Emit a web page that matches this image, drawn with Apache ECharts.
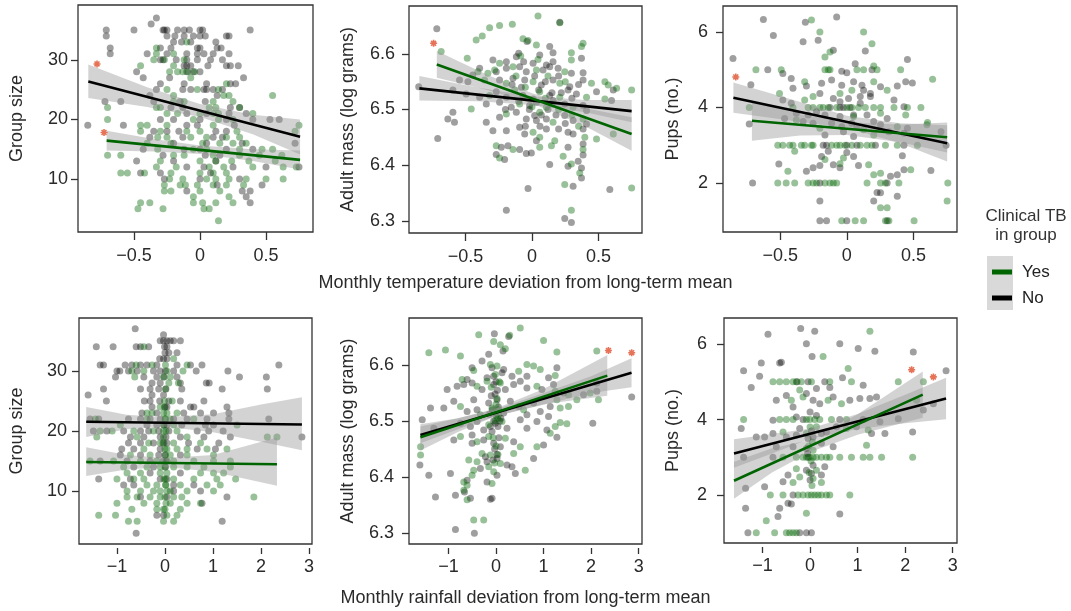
<!DOCTYPE html>
<html><head><meta charset="utf-8">
<script src="https://cdn.jsdelivr.net/npm/echarts@6.0.0/dist/echarts.min.js"></script>
<style>html,body{margin:0;padding:0;background:#fff}#c{width:1071px;height:611px}</style>
</head><body><div id="c"></div>
<script>
// ---------- tick labels ----------
const tempTicks = [-0.5, 0, 0.5];
const rainTicks = [-1, 0, 1, 2, 3];
const groupTicks = [10, 20, 30];
const massTicks = [6.3, 6.4, 6.5, 6.6];
const pupTicks = [2, 4, 6];
const yNames = ['Group size', 'Adult mass (log grams)', 'Pups (no.)'];
const xNames = ['Monthly temperature deviation from long-term mean', 'Monthly rainfall deviation from long-term mean'];
const legendNames = ['Yes', 'No'];
const legendTitle = 'Clinical TB\nin group';

// ---------- Panel 1: group size vs temperature ----------
const p1No = [[-0.33,37],[-0.37,36],
[-0.71,35],[-0.5,35],[-0.28,35],[-0.27,35],[-0.25,35],[-0.17,35],[-0.12,35],[-0.08,35],[0,35],[0.02,35],[0.38,35],
[-0.71,34],[-0.25,34],[-0.19,34],[-0.12,34],[-0.05,34],[0,34],[0.04,34],[0.2,34],[0.22,34],
[-0.2,33],[-0.14,33],[-0.07,33],[0.12,33],
[-0.68,32],[-0.3,32],[-0.22,32],[-0.02,32],[0,32],[0.13,32],[0.16,32],
[-0.68,31],[-0.4,31],[-0.25,31],[-0.1,31],[-0.02,31],[0.03,31],[0.1,31],[0.22,31],
[-0.3,30],[-0.28,30],[-0.18,30],[-0.1,30],[-0.02,30],[0.08,30],[0.17,30],
[-0.12,29],[-0.1,29],[-0.07,29],[0.06,29],[0.2,29],[0.23,29],[0.29,29],
[-0.48,28],[-0.1,28],[-0.05,28],[0,28],
[-0.43,27],[-0.23,27],[0.33,27],
[-0.3,26],[-0.12,26],[0.05,26],[0.23,26],[0.27,26],
[-0.33,25],[-0.13,25],[-0.07,25],[0.03,25],[0.05,25],[0.1,25],[0.17,25],
[-0.38,24],[0.13,24],
[-0.72,23],[-0.6,23],[-0.35,23],[-0.15,23],[0.04,23],
[-0.22,22],[-0.13,22],[0.23,22],[0.3,22],
[-0.1,21],[0.05,21],[0.22,21],[0.35,21],
[-0.3,20],[-0.2,20],[0,20],[0.2,20],[0.4,20],[0.53,20],[0.6,20],
[-0.85,19],[-0.58,19],[-0.1,19],[-0.02,19],[0.26,19],
[-0.35,18],[-0.25,18],[-0.16,18],[0.12,18],[0.2,18],
[-0.38,17],[-0.13,17],[0.1,17],[0.17,17],
[-0.2,16],[0.05,16],[0.32,16],[0.72,16],
[-0.43,15],[-0.12,15],[0,15],[0.2,15],[0.4,15],
[-0.28,14],[0.04,14],[0.15,14],
[-0.48,13],[-0.2,13],[0.12,13],
[-0.1,12],[0.03,12],[0.25,12],[0.5,12],[0.75,12],
[-0.45,11],[-0.3,11],[0.08,11],
[-0.27,10],[0,10],[0.3,10],
[0.13,9],[0.47,9],[-0.1,8],[0.32,8],[0.38,8],[0.35,7],[0.38,6]];
const p1Yes = [[-0.1,33],[-0.33,32],[-0.33,31],[-0.2,31],[-0.35,30],[-0.27,30],[-0.12,30],[-0.45,29],[-0.2,29],
[-0.23,28],[-0.17,28],[-0.13,28],[-0.09,28],[-0.04,28],[-0.07,27],[0.2,26],[-0.25,25],[-0.02,25],[0.14,25],
[-0.2,24],[0.18,24],[0.22,24],[0.55,24],[-0.2,23],[-0.12,23],[0.1,23],[0.25,23],
[-0.7,22],[-0.33,22],[-0.3,22],[0.07,22],[0.12,22],[0.3,22],
[-0.25,21],[-0.17,21],[0,21],[0.1,21],[0.14,21],[0.4,21],
[-0.7,20],[-0.05,20],[0.14,20],[0.25,20],
[-0.45,19],[-0.4,19],[-0.25,19],[0.1,19],[0.75,19],
[-0.45,18],[-0.3,18],[-0.1,18],[0,18],[0.28,18],[0.72,18],
[-0.32,17],[-0.25,17],[-0.07,17],[0.05,17],[0.2,17],[0.3,17],
[-0.4,16],[-0.22,16],[0.02,16],[0.15,16],[0.25,16],[0.35,16],
[-0.32,15],[-0.05,15],[0.05,15],[0.3,15],[0.47,15],[0.55,15],
[-0.7,14],[-0.6,14],[-0.2,14],[-0.12,14],[0.1,14],[0.3,14],[0.45,14],[0.62,14],
[-0.3,13],[0,13],[0.12,13],[0.24,13],[0.37,13],[0.57,13],
[-0.33,12],[-0.18,12],[0.07,12],[0.18,12],[0.4,12],[0.63,12],[0.73,12],
[-0.6,11],[-0.55,11],[-0.42,11],[-0.22,11],[0,11],[0.1,11],[0.2,11],
[-0.23,10],[-0.13,10],[0.05,10],[0.12,10],[0.22,10],[0.35,10],[0.5,10],[0.63,10],
[-0.27,9],[-0.15,9],[-0.11,9],[-0.02,9],[0.1,9],[0.2,9],[0.33,9],
[-0.27,8],[-0.22,8],[0,8],[0.15,8],[-0.05,7],[0.22,7],
[-0.45,6],[-0.38,6],[-0.05,6],[0.02,6],[0.12,6],[0.25,6],
[-0.47,5],[-0.28,5],[0.03,5],[0.07,5],[0.14,3]];
const p1NoFit = [[-0.846,26.36],[0.758,17.1]];
const p1YesFit = [[-0.707,16.44],[0.758,13.2]];
const p1NoBand = [[-0.846,23.6,29.2],[-0.4,22.1,25.4],[0,20.4,22.6],[0.4,17.5,20.8],[0.758,14.1,20.0]];
const p1YesBand = [[-0.707,14.8,18.1],[-0.35,14.6,16.7],[0,14.2,15.6],[0.4,13.0,15.0],[0.758,11.6,14.8]];
const p1Star = [[-0.78,29.3],[-0.727,17.8]];

// ---------- Panel 2: adult mass vs temperature ----------
const p2No = [[0.209,6.657],[-0.716,6.645],[-0.038,6.622],[0.133,6.613],[-0.1,6.601],[0.058,6.598],[0.158,6.602],[-0.118,6.595],
[-0.294,6.589],[-0.193,6.586],[-0.063,6.586],[0.008,6.583],[0.108,6.58],[0.158,6.586],[0.372,6.592],
[-0.269,6.568],[-0.193,6.574],[-0.093,6.577],[-0.043,6.568],[0.083,6.571],[0.133,6.577],[0.196,6.574],[0.296,6.565],[0.384,6.566],
[-0.445,6.562],[-0.394,6.574],[-0.545,6.553],[-0.482,6.55],[-0.244,6.553],[-0.143,6.556],[-0.055,6.553],[0.07,6.544],[0.158,6.553],
[0.284,6.541],[0.611,6.535],[0.384,6.553],[-0.852,6.541],[-0.595,6.535],[-0.495,6.528],[-0.394,6.522],[-0.269,6.532],[-0.193,6.522],
[-0.068,6.525],[0.008,6.519],[0.133,6.525],[0.271,6.535],[0.334,6.528],[0.485,6.532],[0.598,6.516],[-0.344,6.51],[-0.244,6.513],
[-0.156,6.504],[-0.018,6.507],[0.033,6.513],[0.158,6.516],[0.246,6.51],[0.384,6.507],[0.41,6.498],[-0.595,6.495],[-0.633,6.483],
[-0.583,6.477],[-0.344,6.477],[-0.244,6.486],[-0.118,6.495],[-0.043,6.483],[0.02,6.489],[0.033,6.48],[0.108,6.483],[0.246,6.489],
[0.309,6.48],[0.41,6.474],[-0.294,6.462],[-0.193,6.462],[-0.093,6.468],[-0.055,6.456],[0.108,6.465],[0.271,6.459],[0.309,6.456],
[0.384,6.465],[-0.709,6.448],[0.033,6.444],[-0.231,6.432],[-0.181,6.435],[-0.093,6.428],[-0.043,6.421],[-0.005,6.422],[0.271,6.432],
[0.384,6.438],[-0.269,6.419],[-0.206,6.41],[0.133,6.401],[0.271,6.398],[0.347,6.407],[0.384,6.418],[0.372,6.395],[0.372,6.377],
[-0.03,6.358],[0.309,6.362],[0.585,6.356],[-0.193,6.319],[0.246,6.304],[0.296,6.297],
[-0.15,6.545],[-0.08,6.54],[0.05,6.535],[0.1,6.55],[0.2,6.56],[0.22,6.53],[-0.02,6.5],[0.07,6.49],[0.12,6.5],[0.18,6.49],
[0.25,6.475],[-0.1,6.515],[-0.2,6.5],[0.3,6.52],[0.35,6.545],[0.02,6.56],[0.15,6.53],[-0.05,6.47],[0.06,6.47],[0.2,6.465]];
const p2Yes = [[0.045,6.668],[0.209,6.656],[-0.148,6.653],[-0.244,6.651],[-0.319,6.647],[-0.42,6.625],[-0.374,6.632],[-0.068,6.627],
[-0.03,6.624],[0.033,6.616],[0.384,6.619],[0.372,6.613],[-0.085,6.596],[0.296,6.602],[-0.683,6.604],[-0.244,6.583],[0.045,6.59],
[0.296,6.589],[-0.487,6.592],[-0.281,6.571],[-0.143,6.577],[0.033,6.571],[0.246,6.568],[-0.407,6.568],[-0.332,6.565],[-0.357,6.553],
[-0.193,6.547],[0.008,6.55],[0.209,6.547],[0.548,6.55],[0.573,6.544],[0.636,6.538],[0.447,6.547],[-0.319,6.525],[-0.131,6.535],
[0.058,6.532],[0.209,6.522],[0.41,6.522],[0.548,6.519],[0.749,6.535],[-0.093,6.51],[0.108,6.504],[0.309,6.504],[-0.457,6.501],
[-0.193,6.492],[0.058,6.495],[0.158,6.477],[0.384,6.483],[0.008,6.459],[0.058,6.45],[0.397,6.45],[0.485,6.447],[0.611,6.456],
[0.171,6.444],[-0.269,6.435],[-0.143,6.428],[0.058,6.432],[0.146,6.435],[0.384,6.428],[-0.244,6.413],[0.234,6.416],[0.296,6.402],
[0.359,6.386],[0.246,6.365],[0.749,6.359],[0.296,6.319],
[0.1,6.52],[0.15,6.51],[0.2,6.5],[-0.05,6.54],[0.0,6.505],[0.12,6.56],[0.25,6.55],[-0.12,6.56],[0.3,6.49],[0.35,6.47]];
const p2NoFit = [[-0.847,6.538],[0.749,6.497]];
const p2YesFit = [[-0.716,6.581],[0.749,6.456]];
const p2NoBand = [[-0.847,6.516,6.56],[-0.4,6.515,6.539],[0,6.508,6.524],[0.4,6.495,6.517],[0.749,6.477,6.517]];
const p2YesBand = [[-0.716,6.557,6.605],[-0.35,6.536,6.564],[0,6.511,6.529],[0.4,6.47,6.502],[0.749,6.426,6.486]];
const p2Star = [[-0.74,6.619]];

// ---------- Panel 3: pups vs temperature ----------
const p3No = [[-0.076,6.4],[-0.626,6.33],[-0.311,6.26],[-0.551,5.91],[-0.328,5.74],[-0.215,5.78],[-0.854,5.3],[0.139,5.5],[-0.101,5.52],
[-0.593,5.0],[-0.48,4.9],[-0.038,4.96],[0,4.92],[0.063,5.16],[0.189,5.0],[0.455,5.27],
[-0.72,4.6],[-0.417,4.77],[-0.404,4.51],[-0.303,4.57],[-0.189,4.64],[-0.202,4.37],[-0.114,4.73],[-0.038,4.59],[0.051,4.68],
[0.114,4.59],[0.126,4.46],[0.253,4.55],[0.379,4.57],[0.442,4.68],[0.492,4.65],[0.101,4.29],[0.177,4.37],
[-0.126,4],[-0.051,4],[-0.025,4],[0.025,4],[0.429,4.02],
[-0.48,4.2],[-0.417,4.11],[-0.379,3.85],[-0.29,3.8],[-0.227,3.89],[-0.164,3.8],[-0.101,4.24],[-0.051,4.15],[0.013,4.24],[0.051,3.8],
[0.101,4.11],[0.177,4.29],[0.152,3.8],[0.303,3.71],[0.354,4.2],[-0.051,3.76],
[-0.467,3.71],[-0.328,3.63],[-0.253,3.58],[-0.114,3.58],[-0.038,3.49],[0.038,3.58],[0.076,3.49],[0.202,3.63],[0.253,3.54],
[0.316,3.36],[0.429,3.32],[0.455,3.45],[0.707,3.36],[-0.164,3.27],[-0.025,3.36],[0.051,3.23],[-0.732,3.56],
[-0.177,3],[-0.152,3],[0,3],[0.076,3],[0.215,3],[0.429,3],[0.745,3],
[-0.51,2.5],[-0.189,2.7],[-0.303,2.31],[-0.253,2.4],[-0.202,2.46],[-0.101,2.48],[0,2.81],[0.051,2.7],[0.088,2.46],[-0.051,2.4],
[-0.139,2.84],[0.328,2.18],[0.379,2.22],[0.429,2.35],[0.631,2.33],[0.417,2.72],
[-0.707,2],[-0.202,2],[0.303,2],[0.227,1.75],[0.253,1.74],[0.379,1.65],[-0.202,1.52],[0.202,1.52],
[-0.202,1],[-0.152,1],[0,1],[0.303,1]];
const p3Yes = [[-0.265,6.32],[0.126,6.0],[-0.202,6.0],[0.189,5.69],[-0.164,5.34],[-0.126,5.47],
[-0.682,5],[-0.492,5],[-0.164,5],[-0.139,5],[-0.126,5],[0.076,5],[0.126,5],[0.202,5.1],[0.227,5],[0.404,5],[0.644,4.75],
[-0.316,4.68],[-0.253,4.29],[0.038,4.46],[0.202,4.68],[0.303,4.46],[-0.051,4.37],[-0.505,4.37],
[-0.732,4],[-0.404,4],[-0.29,4],[-0.253,4],[-0.202,4],[-0.177,4],[-0.139,4],[-0.076,4],[0,4],[0.038,4],[0.088,4],[0.139,4],
[0.202,4],[0.253,4],[0.354,4],[0.455,4],[0.556,4],
[-0.316,4.2],[0.253,3.85],[0.442,3.8],[0.051,3.76],[-0.379,3.67],[-0.202,3.45],[0.126,3.41],[0.379,3.49],[0.601,3.54],[0.606,3.6],[0.202,3.27],
[-0.518,3],[-0.48,3],[-0.429,3],[-0.404,3],[-0.341,3],[-0.316,3],[-0.265,3],[-0.253,3],[-0.114,3],[-0.076,3],[-0.051,3],[-0.013,3],
[0.038,3],[0.101,3],[0.152,3],[0.189,3],[0.29,3],[0.379,3],[0.53,3],
[-0.442,2.31],[-0.164,2.62],[-0.051,2.51],[-0.025,2.66],[0.164,2.48],[0.202,2.22],[0.253,2.26],[0.48,2.35],[-0.391,2.84],
[-0.518,2],[-0.455,2],[-0.391,2],[-0.29,2],[-0.253,2],[-0.227,2],[-0.164,2],[-0.126,2],[-0.101,2],[-0.076,2],[0.152,2],[0.253,2],
[0.29,2],[0.391,2],[0.758,2],[0.253,1.34],[0.303,1.34],[0.753,1.52],
[-0.038,1],[0.063,1],[0.126,1],[0.29,1],[0.316,1],[0.505,1]];
const p3NoFit = [[-0.851,4.26],[0.753,3.05]];
const p3YesFit = [[-0.712,3.65],[0.753,3.21]];
const p3NoBand = [[-0.851,3.86,4.66],[-0.4,3.64,4.2],[0,3.46,3.78],[0.4,3.05,3.58],[0.753,2.57,3.53]];
const p3YesBand = [[-0.712,3.12,4.17],[-0.35,3.26,3.82],[0,3.27,3.61],[0.4,3.08,3.55],[0.753,2.81,3.6]];
const p3Star = [[-0.833,4.81]];

// ---------- Panel 4: group size vs rainfall ----------
const p4No = [[-0.62,37],[-0.03,36],
[-0.1,35],[-0.03,35],[0.04,35],[0.11,35],[0.18,35],[0.32,35],
[-1.43,34],[-1.08,34],[-0.6,34],[-0.51,34],[-0.34,34],[-0.01,34],[0.04,34],
[0.08,33],[0.25,33],[-0.11,32],[-0.03,32],[0.04,32],
[-1.35,31],[-1.28,31],[-0.83,31],[-0.69,31],[-0.51,31],[-0.375,31],[-0.17,31],[0.25,31],[0.53,31],[0.77,31],[2.37,31],
[-1.0,30],[-0.94,30],[-0.76,30],[-0.58,30],[-0.24,30],[-0.1,30],[0.01,30],[0.18,30],[0.65,30],[1.31,30],
[-1.03,29],[-0.44,29],[-0.17,29],[0.25,29],[1.55,29],[2.11,29],
[-0.27,28],[-0.1,28],[0.32,28],[0.86,28],[0.92,28],
[-1.28,27],[-0.51,27],[-0.31,27],[-0.13,27],[0.35,27],[1.19,27],[2.13,27],
[-1.6,26],[-0.27,26],[-0.03,26],
[-1.22,25],[-0.43,25],[-0.31,25],[-0.11,25],[0.08,25],[0.32,25],[0.81,25],
[-0.27,24],[0.04,24],[0.53,24],[0.6,24],[1.29,24],
[-0.48,23],[-0.17,23],[0.39,23],[0.74,23],[1.01,23],[1.33,23],
[-1.56,22],[-1.38,22],[-0.76,22],[-0.51,22],[-0.31,22],[-0.1,22],[0.18,22],[0.46,22],[0.875,22],[1.33,22],[2.16,22],
[-0.375,21],[-0.17,21],[0.04,21],[0.35,21],[0.84,21],[1.01,21],
[-1.49,20],[-1.21,20],[-0.86,20],[-0.51,20],[-0.34,20],[-0.13,20],[0.08,20],[0.67,20],[0.91,20],[1.21,20],
[-0.72,19],[-0.44,19],[-0.1,19],[0.32,19],[0.81,19],[1.36,19],[2.85,19],
[-0.76,18],[-0.51,18],[-0.24,18],[-0.04,18],[0.04,18],[0.49,18],[1.12,18],
[-0.9,17],[-0.65,17],[-0.1,17],[0.67,17],[1.05,17],
[-0.93,16],[-0.51,16],[-0.13,16],[0.32,16],
[-1.35,15],[-0.79,15],[-0.31,15],[-0.04,15],[0.04,15],
[-0.65,14],[-0.24,14],[0.01,14],[-0.31,13],[0.32,13],
[-1.38,12],[-0.72,12],[-0.1,12],[0.04,12],
[-0.86,11],[-0.65,11],[0.18,11],[0.6,11],[0.18,10],[0.74,10],
[-0.51,9],[0.04,9],[1.29,9],[0.77,8],[-0.17,6],[-0.03,6],[1.19,5],[-0.6,3],
[0.0,33],[-0.02,29],[0.02,27],[0.0,24],[-0.02,21],[0.02,19],[0.0,16]];
const p4Yes = [[-0.44,34],[0.18,32],[-0.6,31],[-0.27,31],[0.01,31],[0.46,31],[-0.69,30],[-0.44,30],[0.04,30],[0.375,30],
[-0.63,29],[-0.03,29],[0.11,29],[0.08,28],[0.28,28],[0.01,27],[-0.01,25],[0.15,25],[-0.1,24],[-0.01,24],
[-0.375,23],[-0.27,23],[-0.03,23],[0.04,23],[0.25,23],
[-1.45,22],[-0.375,22],[0.01,22],[0.11,22],[0.6,22],
[-0.93,21],[-0.03,21],[0.18,21],[1.5,21],
[-1.35,20],[-1.10,20],[-0.65,20],[-0.24,20],[-0.03,20],[0.25,20],
[-1.42,19],[-0.58,19],[-0.03,19],[0.46,19],[2.13,19],[2.33,19],
[-0.34,18],[-0.1,18],[0.18,18],[0.74,18],
[-0.44,17],[0.04,17],[0.25,17],[0.46,17],[0.875,17],[1.29,17],
[-0.72,16],[-0.31,16],[0.01,16],[0.11,16],[0.46,16],[1.01,16],
[-1.56,15],[-1.07,15],[-0.51,15],[-0.17,15],[0.18,15],[0.6,15],[1.01,15],[1.36,15],
[-0.86,14],[-0.375,14],[-0.1,14],[0.18,14],[0.46,14],[0.81,14],[1.36,14],
[-0.79,13],[-0.51,13],[-0.1,13],[0.04,13],[0.74,13],[1.01,13],[1.22,13],
[-1.0,12],[-0.65,12],[-0.44,12],[0.01,12],[0.18,12],[0.6,12],[1.08,12],[1.47,12],
[-0.375,11],[-0.17,11],[0.01,11],[0.32,11],[0.875,11],[1.15,11],
[-0.79,10],[-0.51,10],[-0.24,10],[-0.1,10],[0.04,10],[0.11,10],[0.46,10],[1.01,10],
[-0.79,9],[-0.58,9],[-0.31,9],[-0.1,9],[0.18,9],[0.35,9],[1.85,9],
[-1.0,8],[-0.44,8],[-0.17,8],[0.11,8],[0.46,8],[0.74,8],
[-0.69,7],[-0.17,7],[-0.03,7],[0.32,7],[-1.38,6],[-1.03,6],[0.04,6],[0.25,6],
[-0.76,5],[-0.58,5],[-0.03,5],[0.18,5],
[0.0,22],[0.02,20],[-0.02,18],[0.0,17],[0.02,15],[0.0,14],[-0.02,12],[0.02,11],[0.0,9],[0.02,8],[0.0,7]];
const p4NoFit = [[-1.64,21.53],[2.85,21.09]];
const p4YesFit = [[-1.64,14.85],[2.33,14.46]];
const p4NoBand = [[-1.64,19.0,24.0],[-0.8,20.3,22.7],[0,20.7,22.3],[1,19.8,22.8],[2,18.2,24.4],[2.85,16.8,25.6]];
const p4YesBand = [[-1.64,12.5,17.3],[-0.8,13.6,16.0],[0,14.0,15.5],[1,13.2,16.0],[2.33,10.9,18.9]];
const p4Star = [];

// ---------- Panel 5: adult mass vs rainfall ----------
const p5No = [[-0.035,6.656],[0.266,6.651],[0.147,6.625],[-0.154,6.619],[-0.294,6.607],[-0.503,6.595],[-0.084,6.595],[0.161,6.592],
[0.336,6.58],[0.65,6.58],[1.28,6.595],[-0.608,6.574],[-0.189,6.577],[0.126,6.586],[1.105,6.577],[-1.028,6.556],[-0.818,6.562],
[-0.678,6.565],[-0.503,6.568],[-0.294,6.556],[-0.049,6.565],[0.196,6.556],[0.371,6.565],[0.51,6.571],[0.65,6.559],[0.965,6.556],
[1.21,6.565],[1.42,6.55],[1.84,6.547],[2.119,6.553],[2.119,6.568],[2.853,6.543],[-1.378,6.523],[-1.098,6.523],[-0.888,6.535],
[-0.608,6.517],[-0.469,6.538],[-0.399,6.52],[-0.154,6.532],[0.021,6.538],[0.161,6.514],[0.301,6.535],[0.476,6.526],[0.65,6.511],
[0.79,6.532],[0.93,6.517],[1.14,6.526],[1.105,6.508],[-1.552,6.502],[-1.308,6.487],[-0.748,6.496],[-0.538,6.49],[-0.399,6.499],
[-0.259,6.484],[-0.084,6.481],[-0.014,6.496],[0.231,6.487],[0.51,6.502],[0.65,6.487],[0.86,6.499],[2.035,6.496],[1.07,6.484],
[-0.888,6.466],[-0.503,6.475],[-0.259,6.466],[-0.049,6.46],[0.091,6.454],[0.371,6.463],[1.0,6.457],[1.28,6.471],[-0.503,6.46],
[-1.601,6.421],[-0.224,6.436],[0.021,6.433],[-0.189,6.427],[0.231,6.421],[0.336,6.418],[0.79,6.433],[-1.413,6.403],[-0.958,6.406],
[-0.329,6.415],[0.021,6.403],[0.406,6.406],[-0.608,6.394],[-0.189,6.391],[-1.273,6.364],[-0.853,6.367],[-0.664,6.373],[-0.538,6.362],
[-0.084,6.362],[-0.119,6.36],[-0.853,6.306],[-0.455,6.299],
[0.0,6.51],[-0.05,6.5],[0.05,6.525],[-0.1,6.545],[0.1,6.505],[-0.02,6.548],[0.04,6.49],[-0.14,6.512],
[-0.05,6.58],[0.0,6.57],[0.03,6.555],[-0.08,6.52],[0.06,6.47],[-0.03,6.45],[0.02,6.44],[-0.06,6.43],[0.08,6.5],[-0.12,6.49]];
const p5Yes = [[0.51,6.666],[-0.364,6.654],[0.287,6.653],[1.0,6.644],[-0.049,6.642],[0.091,6.636],[0.196,6.629],[-1.413,6.622],
[-1.063,6.627],[-0.748,6.616],[1.28,6.623],[2.119,6.625],[-0.119,6.601],[-0.469,6.59],[0.021,6.598],[0.65,6.601],[0.79,6.598],
[0.93,6.592],[-0.713,6.574],[-0.014,6.583],[0.476,6.589],[1.245,6.581],[-0.399,6.562],[-0.189,6.571],[0.091,6.568],[0.86,6.562],
[1.245,6.553],[1.524,6.547],[1.98,6.55],[2.154,6.538],[1.7,6.538],[-0.748,6.526],[-0.329,6.511],[-0.084,6.523],[0.056,6.52],
[0.58,6.52],[1.35,6.523],[1.524,6.526],[1.28,6.538],[-0.154,6.493],[0.126,6.499],[1.35,6.497],[1.49,6.495],[1.245,6.49],
[-0.748,6.472],[-0.399,6.463],[-0.154,6.472],[0.196,6.469],[0.51,6.454],[0.86,6.454],[1.14,6.478],[-1.587,6.454],[-1.587,6.439],
[-0.294,6.442],[-0.119,6.439],[0.091,6.424],[-0.399,6.427],[-0.573,6.43],[0.371,6.442],[-0.469,6.412],[-0.154,6.418],[-0.049,6.409],
[-0.503,6.403],[0.615,6.412],[-0.678,6.391],[-0.608,6.385],[-0.678,6.376],[-0.608,6.359],[-0.084,6.388],[-0.469,6.323],[-0.259,6.323],
[0.0,6.53],[-0.03,6.515],[0.03,6.505],
[0.02,6.54],[-0.02,6.5],[0.05,6.51],[-0.06,6.47],[0.0,6.455],[0.04,6.44],[-0.03,6.425],[0.07,6.57],[-0.1,6.56]];
const p5NoFit = [[-1.59,6.475],[2.85,6.586]];
const p5YesFit = [[-1.59,6.471],[2.34,6.581]];
const p5NoBand = [[-1.59,6.46,6.49],[-0.8,6.485,6.505],[0,6.509,6.521],[1,6.529,6.55],[2,6.55,6.58],[2.85,6.56,6.612]];
const p5YesBand = [[-1.59,6.447,6.494],[-0.8,6.48,6.505],[0,6.509,6.522],[1,6.53,6.557],[2.34,6.545,6.618]];
const p5Star = [[2.364,6.626],[2.853,6.622]];

// ---------- Panel 6: pups vs rainfall ----------
const p6No = [[-0.197,6.41],[0.098,6.34],[-0.885,6.26],[-0.077,6.01],[0.625,6.01],[1.012,5.88],[1.363,5.81],[2.171,5.79],[0.042,5.67],
[-1.026,5.5],[-0.639,5.5],[-0.604,5.52],[-1.398,5.29],[-1.061,5.15],[0.682,5.11],[-0.042,5.0],[2.86,5.29],[-1.237,4.85],[-0.274,5.0],
[0.309,5.0],[0.415,4.85],[1.117,4.91],[-0.499,4.64],[-0.077,4.69],[0.134,4.82],[0.485,4.6],[0.836,4.51],[1.047,4.56],[1.258,4.56],
[1.398,4.6],[0.063,4.51],[0.204,4.42],[2.593,4.42],[-0.358,4.33],[-0.71,4.51],
[-0.78,3.98],[-0.288,4.07],[-0.148,4.0],[0.134,4.11],[0.625,4.0],[1.117,4.0],[1.855,4.02],[1.469,3.94],[2.382,4.25],
[-1.448,3.76],[-1.131,3.54],[-0.956,3.54],[-0.78,3.63],[-0.499,3.54],[-0.288,3.59],[-0.218,3.76],[-0.042,3.5],[0.063,3.54],
[0.239,3.63],[0.344,3.67],[0.555,3.81],[0.976,3.81],[1.293,3.63],[1.574,3.63],[2.157,3.67],[-0.71,3.28],[-0.358,3.28],[-0.077,3.23],
[0.239,3.37],[0.485,3.28],[-1.398,3.0],[-0.78,3.0],[-0.042,3.0],
[-1.356,2.18],[-0.956,2.22],[-0.569,2.35],[-0.464,2.53],[-0.077,2.66],[0.028,2.57],[0.063,2.79],[0.239,2.53],[0.309,2.75],
[-0.358,2.0],[-0.464,1.78],[-0.639,1.65],[-0.394,1.76],[-0.675,1.43],[-1.356,1.65],[0.625,1.5],
[-1.307,1.0],[-0.218,1.0],[-0.077,1.0],[0.028,1.0],
[0.0,4.2],[0.03,3.7],[-0.05,3.1],[0.0,2.4]];
const p6Yes = [[1.258,6.34],[0.274,5.67],[0.801,5.35],
[-0.78,5.0],[-0.639,5.0],[-0.499,5.0],[-0.358,5.0],[-0.288,5.0],[-0.183,5.0],[0.028,5.0],[0.415,5.0],[0.871,5.0],[1.855,5.0],[2.382,5.0],
[-0.218,4.78],[-0.394,4.51],[-0.148,4.6],[2.242,4.51],[0.379,4.51],[0.661,4.42],
[-1.398,4.0],[-0.639,4.0],[-0.499,4.0],[-0.358,4.0],[-0.077,4.0],[-0.007,4.0],[0.098,4.0],[0.204,4.0],[0.45,4.0],[0.766,4.0],
[-0.569,3.67],[-0.077,3.63],[0.134,3.81],[0.766,3.76],[1.223,3.72],[1.188,3.32],[0.063,3.19],
[-0.569,3.0],[-0.288,3.0],[-0.148,3.0],[-0.077,3.0],[-0.007,3.0],[0.063,3.0],[0.134,3.0],[0.239,3.0],[0.344,3.0],[0.415,3.0],
[0.625,3.0],[0.871,3.0],[1.117,3.0],[1.258,3.0],[1.504,3.0],[2.157,3.0],
[-0.358,2.33],[-0.218,2.48],[0.134,2.66],[0.239,2.33],[-0.288,2.7],[0.063,2.44],
[-0.836,2.0],[-0.569,2.0],[-0.253,2.0],[-0.148,2.0],[-0.042,2.0],[0.028,2.0],[0.098,2.0],[0.169,2.0],[0.239,2.0],[0.344,2.0],
[0.415,2.0],[0.836,2.0],[-0.077,1.52],[-0.921,1.32],
[-1.131,1.0],[-0.745,1.0],[-0.499,1.0],[-0.429,1.0],[-0.358,1.0],[-0.288,1.0],
[0.0,3.8],[0.05,3.4],[-0.03,3.3],[0.02,2.9],[-0.02,2.6],[0.04,2.25]];
const p6NoFit = [[-1.6,3.1],[2.86,4.56]];
const p6YesFit = [[-1.6,2.38],[2.37,4.66]];
const p6NoBand = [[-1.6,2.72,3.48],[-0.8,3.1,3.62],[0,3.49,3.76],[1,3.75,4.15],[2,3.9,4.66],[2.86,4.01,5.11]];
const p6YesBand = [[-1.6,1.9,2.88],[-0.8,2.6,3.24],[0,3.14,3.46],[1,3.6,4.14],[2.37,4.05,5.27]];
const p6Star = [[2.136,5.32],[2.593,5.13]];

// ---------- layout (not data) ----------
const panels = [
 {no:p1No,yes:p1Yes,noFit:p1NoFit,yesFit:p1YesFit,noBand:p1NoBand,yesBand:p1YesBand,star:p1Star,xr:[-0.924,0.856],yr:[1.1,39.2],xt:tempTicks,yt:groupTicks,yn:yNames[0],g:[78,5,235,227],ng:52,lm:10,row:0},
 {no:p2No,yes:p2Yes,noFit:p2NoFit,yesFit:p2YesFit,noBand:p2NoBand,yesBand:p2YesBand,star:p2Star,xr:[-0.925,0.827],yr:[6.278,6.686],xt:tempTicks,yt:massTicks,yn:yNames[1],g:[409,6,233,227],ng:52,lm:14,row:0,xn:xNames[0]},
 {no:p3No,yes:p3Yes,noFit:p3NoFit,yesFit:p3YesFit,noBand:p3NoBand,yesBand:p3YesBand,star:p3Star,xr:[-0.929,0.827],yr:[0.70,6.69],xt:tempTicks,yt:pupTicks,yn:yNames[2],g:[723,6,234,226],ng:41,lm:15,row:0},
 {no:p4No,yes:p4Yes,noFit:p4NoFit,yesFit:p4YesFit,noBand:p4NoBand,yesBand:p4YesBand,star:p4Star,xr:[-1.79,3.06],yr:[1.2,38.8],xt:rainTicks,yt:groupTicks,yn:yNames[0],g:[79,318,233,226],ng:53,lm:12,row:1},
 {no:p5No,yes:p5Yes,noFit:p5NoFit,yesFit:p5YesFit,noBand:p5NoBand,yesBand:p5YesBand,star:p5Star,xr:[-1.83,3.07],yr:[6.28,6.684],xt:rainTicks,yt:massTicks,yn:yNames[1],g:[409,318,233,226],ng:52,lm:15,row:1,xn:xNames[1]},
 {no:p6No,yes:p6Yes,noFit:p6NoFit,yesFit:p6YesFit,noBand:p6NoBand,yesBand:p6YesBand,star:p6Star,xr:[-1.81,3.09],yr:[0.73,6.69],xt:rainTicks,yt:pupTicks,yn:yNames[2],g:[724,318,233,225],ng:42,lm:17,row:1}
];

const FONT = '"Liberation Sans", Arial, Helvetica, sans-serif';
const TXT = '#2a2a2a';
const GREEN = '#006400';
const BAND = 'rgba(150,150,150,0.42)';
const fmt = v => (v < 0 ? '\u2212' + Math.abs(v) : String(v));
const grids = [], xAxes = [], yAxes = [], series = [];

function bandSeries(band, i) {
  return {type:'custom', xAxisIndex:i, yAxisIndex:i, data:band, z:3, silent:true, clip:true,
    encode:{x:0, y:[1, 2]},
    renderItem:(params, api) => {
      if (params.dataIndex !== 0) return null;
      const up = band.map(d => api.coord([d[0], d[2]]));
      const lo = band.map(d => api.coord([d[0], d[1]])).reverse();
      return {type:'polygon', shape:{points:up.concat(lo)}, style:{fill:BAND}};
    }};
}

panels.forEach((p, i) => {
  grids.push({left:p.g[0], top:p.g[1], width:p.g[2], height:p.g[3], show:true, borderColor:'#333', borderWidth:1.3, backgroundColor:'transparent', containLabel:false, outerBoundsMode:'none'});
  xAxes.push({type:'value', gridIndex:i, min:p.xr[0], max:p.xr[1], offset: p.row ? 4 : 0,
    axisLine:{show:false, onZero:false}, splitLine:{show:false},
    axisTick:{show:true, customValues:p.xt, length: p.row ? 6 : 8, lineStyle:{color:'#333', width:1.3}},
    axisLabel:{customValues:p.xt, formatter:fmt, fontSize:18, color:TXT, fontFamily:FONT, margin: p.row ? 10 : 15},
    name: p.xn || '', nameLocation:'middle', nameGap:41, nameTextStyle:{fontSize:18, color:TXT, fontFamily:FONT}});
  yAxes.push({type:'value', gridIndex:i, min:p.yr[0], max:p.yr[1],
    axisLine:{show:false, onZero:false}, splitLine:{show:false},
    axisTick:{show:true, customValues:p.yt, length:7, lineStyle:{color:'#333', width:1.3}},
    axisLabel:{customValues:p.yt, formatter:fmt, fontSize:18, color:TXT, fontFamily:FONT, margin:p.lm},
    name:p.yn, nameLocation:'middle', nameGap:p.ng, nameTextStyle:{fontSize:18, color:TXT, fontFamily:FONT}});
  const ax = {xAxisIndex:i, yAxisIndex:i};
  series.push(Object.assign({type:'scatter', name:'No points', data:p.no, symbolSize:7, itemStyle:{color:'rgba(0,0,0,0.47)'}, z:2, silent:true}, ax));
  series.push(Object.assign({type:'scatter', name:'Yes points', data:p.yes, symbolSize:7, itemStyle:{color:'rgba(0,100,0,0.5)'}, z:2, silent:true}, ax));
  series.push(bandSeries(p.noBand, i));
  series.push(bandSeries(p.yesBand, i));
  series.push(Object.assign({type:'line', name:legendNames[1], data:p.noFit, symbol:'none', lineStyle:{color:'#000', width:2.6}, itemStyle:{color:'#000'}, z:4, silent:true}, ax));
  series.push(Object.assign({type:'line', name:legendNames[0], data:p.yesFit, symbol:'none', lineStyle:{color:GREEN, width:2.6}, itemStyle:{color:GREEN}, z:4, silent:true}, ax));
  if (p.star.length) series.push(Object.assign({type:'scatter', name:'sig', data:p.star, symbol:'path://M5,0L5,10M0,5L10,5M1.5,1.5L8.5,8.5M8.5,1.5L1.5,8.5', symbolSize:7, itemStyle:{color:'#e0502e', borderColor:'#e0502e', borderWidth:1.6}, z:5, silent:true}, ax));
});

const chart = echarts.init(document.getElementById('c'), null, {renderer:'canvas'});
chart.setOption({
  animation:false,
  backgroundColor:'#fff',
  grid:grids, xAxis:xAxes, yAxis:yAxes, series:series,
  legend:{data:[{name:legendNames[0], itemStyle:{color:GREEN}}, {name:legendNames[1], itemStyle:{color:'#000'}}],
    orient:'vertical', left:987, top:258, icon:'rect', itemWidth:20, itemHeight:5, itemGap:8, selectedMode:false,
    textStyle:{fontSize:17, color:'#222', fontFamily:FONT, lineHeight:18, padding:[0,0,0,5]}},
  graphic:[
    {type:'rect', x:987, y:256, shape:{width:26, height:54}, style:{fill:'#d9d9d9'}, z:0},
    {type:'text', x:1026, y:207, style:{text:legendTitle, textAlign:'center', fontSize:17, lineHeight:19, fill:'#333', fontFamily:FONT}, z:1}
  ]
});
</script></body></html>
